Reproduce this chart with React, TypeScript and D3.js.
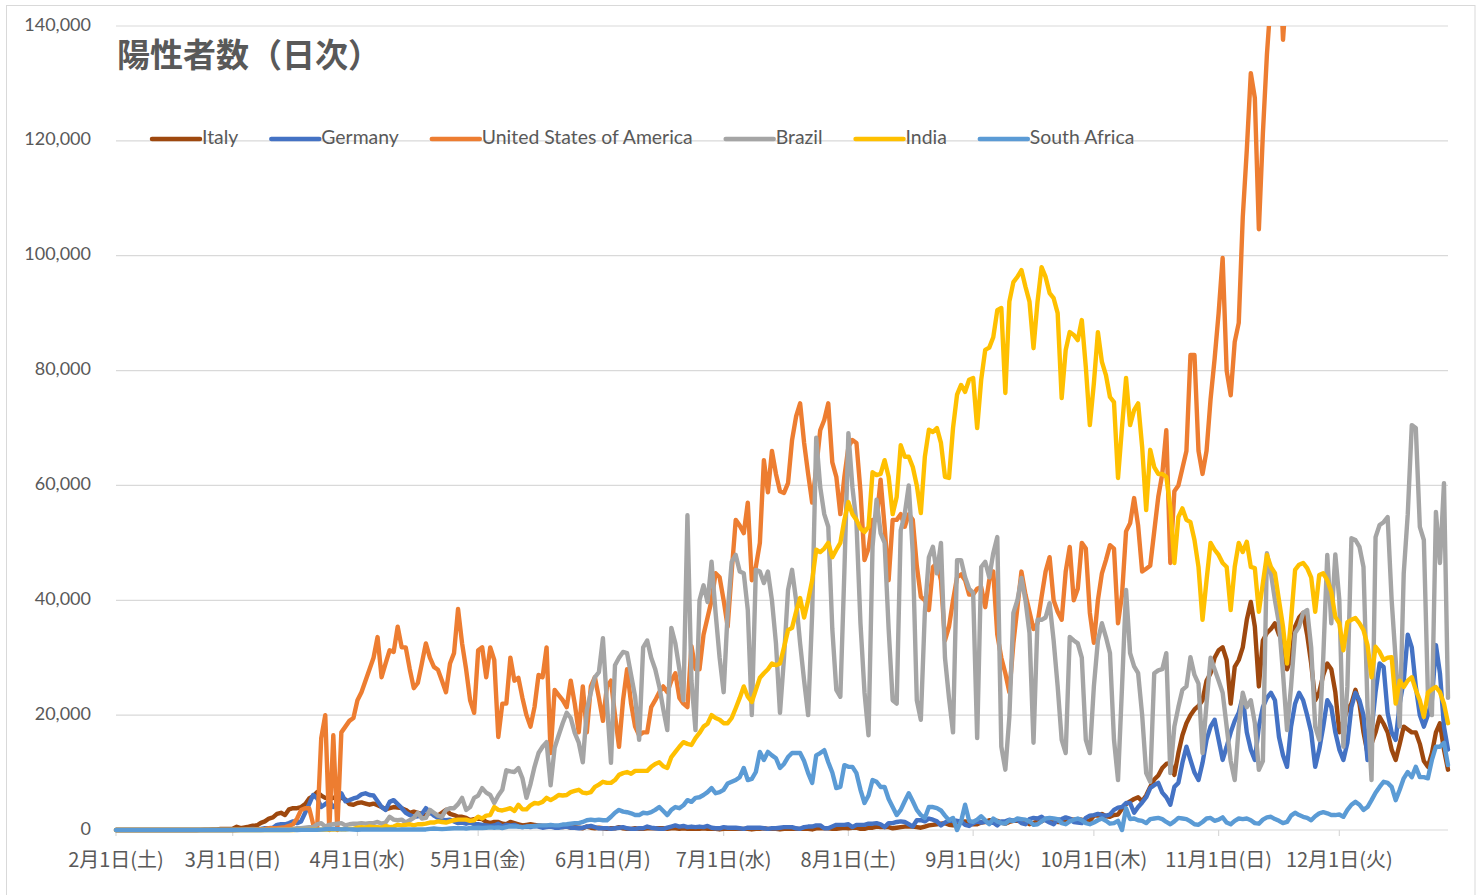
import React, { useEffect, useRef } from 'react';
import * as d3 from 'd3';

// daily new cases (thousands), 2020-02-01 .. 2020-12-28, one line per month
const startDate = Date.UTC(2020, 1, 1);
const countries = ['Italy', 'Germany', 'United States of America', 'Brazil', 'India', 'South Africa'];
const colors = ['#9E480E', '#4472C4', '#ED7D31', '#A5A5A5', '#FFC000', '#5B9BD5'];
const yTicks = [0, 20000, 40000, 60000, 80000, 100000, 120000, 140000];
const weekdays = ['日', '月', '火', '水', '木', '金', '土'];

const italy = [
  0,0,0,0,0,0,0,0,0,0,0,0,0,0,0,0,0,0,0,0,0,0.02,0.06,0.07,0.1,0.1,0.2,0.2,0.2,
  0.24,0.57,0.34,0.47,0.58,0.77,0.78,1.25,1.5,2.0,2.2,2.8,3.0,2.6,3.6,3.8,3.8,4.0,4.5,5.5,5.9,6.6,6.0,5.6,5.4,5.6,5.8,5.6,5.3,4.5,4.4,
  4.7,4.8,4.6,4.4,4.6,4.3,4.0,3.6,3.8,4.0,3.9,3.8,3.5,3.0,3.2,3.0,2.8,2.6,3.0,2.8,2.5,3.0,3.5,2.8,2.6,2.3,2.3,2.1,1.7,1.9,
  2.0,1.9,1.4,1.2,1.4,1.4,1.1,1.0,1.4,1.2,1.0,0.8,0.9,1.0,0.9,0.8,0.7,0.7,0.6,0.6,0.6,0.5,0.6,0.4,0.5,0.4,0.3,0.6,0.4,0.3,0.4,
  0.3,0.2,0.3,0.3,0.5,0.3,0.2,0.2,0.3,0.2,0.2,0.3,0.3,0.3,0.3,0.3,0.2,0.3,0.3,0.2,0.3,0.2,0.2,0.2,0.2,0.3,0.2,0.2,0.2,0.1,
  0.2,0.2,0.2,0.2,0.2,0.2,0.2,0.1,0.2,0.2,0.3,0.2,0.2,0.2,0.1,0.2,0.2,0.2,0.2,0.2,0.2,0.2,0.1,0.3,0.3,0.3,0.3,0.2,0.2,0.3,0.4,
  0.3,0.4,0.4,0.2,0.2,0.4,0.4,0.6,0.5,0.5,0.5,0.3,0.4,0.5,0.6,0.6,0.6,0.5,0.4,0.6,0.8,0.9,1.0,1.1,1.2,0.9,0.8,1.4,1.4,1.5,1.4,
  1.0,1.0,1.3,1.4,1.7,1.7,1.6,1.3,1.1,1.4,1.6,1.6,1.5,1.5,1.0,1.2,1.5,1.5,1.9,1.6,1.6,1.4,1.4,1.4,1.9,1.8,1.9,1.8,1.5,1.6,
  2.5,2.5,2.8,2.4,2.3,2.6,2.7,3.7,4.5,5.0,5.4,5.7,5.0,6.0,7.5,8.8,9.5,10.8,11.5,11.7,9.6,13.4,16.5,18.6,20,21,21.6,22.6,26,27.3,30,
  31.3,31.8,29.6,22,28.4,29.6,31.8,36.6,39.7,35.4,25,33,34.3,35,36,34,33,28,30,35.4,37,37.8,34,29,22.6,24,27,29,28,24,
  17,19,21,22,24.4,22,17,13.4,15,17,19.7,18.5,17,14,12.2,15,18,17.5,17,17,15,12,11,13.4,17,18.6,14,10.5,
];

const germany = [
  0,0,0,0,0,0,0,0,0,0,0,0,0,0,0,0,0,0,0,0,0,0,0,0,0,0,0,0,0,
  0.01,0.02,0.03,0.1,0.15,0.2,0.1,0.2,0.3,0.3,0.4,0.9,1.0,1.0,1.2,1.5,1.2,1.5,3.0,4.5,6.1,5.5,4.0,4.5,5.0,4.0,4.5,6.4,5.0,5.2,5.5,
  5.7,6.2,6.4,6.1,6.0,5.0,4.0,3.5,4.9,5.2,4.5,3.8,3.0,2.6,2.3,2.4,2.8,3.8,3.1,2.5,2.1,1.8,1.7,1.8,1.5,1.2,1.3,1.1,1.3,1.0,
  1.0,0.9,0.8,0.7,0.8,1.1,0.6,0.9,0.8,0.9,0.6,0.5,0.6,0.5,0.7,0.6,0.4,0.5,0.6,0.4,0.4,0.5,0.6,0.4,0.4,0.3,0.4,0.6,0.7,0.5,0.3,
  0.3,0.3,0.2,0.3,0.4,0.5,0.3,0.2,0.2,0.3,0.3,0.6,0.4,0.3,0.2,0.2,0.4,0.6,0.8,0.6,0.7,0.5,0.6,0.5,0.6,0.5,0.7,0.4,0.3,0.3,
  0.5,0.4,0.4,0.4,0.3,0.2,0.4,0.4,0.4,0.4,0.3,0.2,0.3,0.3,0.4,0.5,0.5,0.5,0.3,0.2,0.5,0.6,0.6,0.8,0.8,0.3,0.3,0.6,0.9,0.9,0.9,
  1.0,0.5,0.9,0.9,0.9,1.1,1.1,1.2,1.0,0.5,1.2,1.2,1.4,1.5,1.4,1.0,0.6,1.7,1.7,1.5,2.0,1.8,1.5,0.8,1.3,1.6,1.6,1.6,1.5,0.9,0.7,
  1.2,1.5,1.3,1.5,1.2,1.3,0.8,1.5,1.5,1.8,1.6,1.8,1.2,1.0,1.9,2.1,2.0,2.3,1.7,1.3,1.0,1.8,1.9,2.2,2.0,1.4,1.3,1.2,2.1,2.5,
  2.6,2.8,2.6,2.5,2.7,3.5,3.9,4.0,4.7,4.7,3.0,4.0,4.8,5.7,7.3,7.8,8.2,6.5,5.7,4.4,7.5,8.2,11.7,14.5,12.2,10,8.7,11.7,15.7,18,19.2,
  15.7,12.2,14.5,17,19,20.4,23.2,17,14,12.2,18,21.4,23,23.9,22.6,16.2,13,11,18,22,23.9,22.6,20,17,11,14,18,22.6,21.4,17,
  14,12.2,15.2,21.4,23.9,22.6,20,12.2,17.4,24,29,28.4,20.4,17,15.7,22,26,34,31.8,25,20,18,20,22.6,32.2,27.3,18,14,
];

const usa = [
  0,0,0,0,0,0,0,0,0,0,0,0,0,0,0,0,0,0,0,0,0,0,0,0,0,0,0,0,0,
  0.01,0.01,0.02,0.03,0.05,0.07,0.1,0.12,0.2,0.3,0.3,0.3,0.4,0.5,0.7,1.0,2.0,3.5,3.8,3.8,1.0,0.5,16,20,0,16.5,0,17,18,19,19.5,
  22.6,24,26,28,30,33.6,26.6,29,31.3,31,35.4,31.8,31.8,28,24.7,25.6,29,32.5,30,28.4,27.9,26,24,29,30.8,38.5,32.5,28,22.6,20.4,
  31.3,31.8,26.6,31.8,29.6,16.2,22,22,30,26,26.5,23,20,18,21.4,27,26.6,31.8,13.4,24.4,23.5,22.6,21.4,26,22,17,25,17,25,26.6,23,
  19,25,26,20,14.5,22.6,28,22,18,16.5,17,17,21.4,22.6,24,25,24,26,27.3,23,22,21.4,32,28,28,34,37,40,44.7,44,
  40,35.4,45,54,53,51.7,57,43.5,45.8,50,64.4,58.8,66,62,59,58.7,60.4,67.9,72,74.3,67.4,62,57,63,69.6,71.4,74.3,64,61.5,55,61.5,
  66.7,67.9,67.4,59,47,49,54,54,61,52.8,43.5,54,54,55,52.8,55,54,46,40.6,40,38.3,45.8,46.5,43.5,33,35.4,40,44,44.5,43.5,41,
  41,42,42.3,38.8,43.5,45,34,30,27.3,24,32.5,38.8,45,41,38,35,36,40.6,45,47.5,40,38,36.6,45,49.3,40,42,50,49,37.8,
  32.6,40,44.7,47,49.6,49,36,41,52,53.4,57.8,53,45,45.5,46,52,58,62,69.6,46.5,59,60,63,66,82.7,82.7,66,62,66,75,82,
  90,99.6,80,75.7,85,88.3,106.7,118.4,131.8,127.5,104.6,121.3,135,145,150,155,137.6,148,160,165,170,175,160,145,175,180,185,195,155,150,
  160,180,200,210,220,215,185,190,210,225,230,235,210,195,200,220,240,245,250,220,195,200,210,230,215,180,150,160,
];

const brazil = [
  0,0,0,0,0,0,0,0,0,0,0,0,0,0,0,0,0,0,0,0,0,0,0,0,0,0,0,0,0,
  0,0,0,0,0,0,0.01,0.01,0.02,0.03,0.03,0.05,0.1,0.1,0.1,0.2,0.3,0.3,0.4,0.5,0.5,1.0,1.2,0.6,0.9,1.0,1.1,1.2,0.8,1.0,1.1,
  1.1,1.2,1.1,1.2,1.2,1.4,1.1,1.3,2.3,1.8,1.7,1.8,1.3,1.7,2.1,3.0,2.0,2.1,3.5,3.0,2.5,2.3,3.5,3.8,3.8,4.5,5.6,3.5,4.0,5.6,
  6.0,7.3,6.5,6.1,4.7,6.0,7.0,10.4,10.2,10.1,10.8,9.0,5.6,8.0,11.0,13.4,14.5,15.3,7.8,14.3,16.5,18.6,20.4,19.5,16.9,15.2,11.8,20.9,24,26.6,27.5,
  33.4,22,11.7,28.7,30,31,30.8,27,23.2,15.7,31.8,33,30,28,25,21,17.4,35.2,32.5,28,22.6,54.8,26,17.4,40,42.6,39.7,46.7,37.8,30,
  24,38,46.7,47.9,45,44.7,38.3,20,45.3,45,43,45,40,32.5,20.4,30,41.8,45.3,40,32.5,26,20,37.8,68.3,59.7,55,52.8,35,24.4,23.2,45,
  69.1,59.7,53.5,36,24,16.5,49.3,57.5,51.7,50,35,22.6,22,52.2,55,60,48.2,22.6,19.2,38,47.5,49.3,44.7,50,30,23,17,47,47,44,42,
  41.3,16,45.8,46.7,44,48.2,51,14.5,10.5,19.7,37.8,40,43.9,40,34.3,15.2,36.6,36.6,37,39.5,33,25,15.7,13.4,33.6,33,32.5,30,15.7,13.4,
  25,33,36,33.6,30.8,15.7,8.7,25,41.8,30.8,28.5,27.3,20,9.9,8.4,27.3,27.8,28,30.8,9.9,18,21.4,24.4,25,30.1,27,25.5,13.4,22,30,28,
  26,23.9,18,12,8.7,18,23.9,21.4,22.6,18.6,10.5,12,48.2,44.7,40,36,27.3,17.4,25,34.3,35.4,37.8,38.3,31.8,18,15.7,30,47.9,36,48,
  40,14.5,25,50.8,50.5,49.3,45.8,21.4,8.7,51,53.1,53.6,54.5,40,29.6,18,44.7,55,70.5,70,52.8,50.5,23.9,20,55.4,46.5,60.4,23,
];

const india = [
  0,0,0,0,0,0,0,0,0,0,0,0,0,0,0,0,0,0,0,0,0,0,0,0,0,0,0,0,0,
  0,0,0,0,0.002,0.01,0.003,0.001,0.001,0.01,0.01,0.01,0.01,0.01,0.02,0.01,0.02,0.02,0.03,0.03,0.05,0.07,0.06,0.1,0.09,0.07,0.1,0.15,0.1,0.2,0.2,
  0.4,0.5,0.4,0.6,0.5,0.5,0.4,0.7,0.5,0.6,0.9,0.8,0.9,1.0,0.8,1.0,1.0,1.1,1.3,1.3,1.5,1.4,1.3,1.5,1.7,1.8,1.8,1.8,1.6,1.7,
  2.3,2.0,2.5,2.6,4.0,3.5,3.4,3.6,3.8,3.3,4.4,3.6,3.6,4.3,4.7,4.6,4.9,5.6,5.2,5.6,6.1,6.0,6.1,6.6,6.8,7.0,6.5,6.4,6.6,7.5,7.9,
  8.4,8.2,8.2,8.7,9.6,9.9,10.1,9.8,10.3,10.3,10.3,10.3,11.0,11.5,11.8,11.1,10.8,12.7,13.6,14.5,15.3,15.0,14.8,16.0,16.9,18,18.5,20,19.5,19.2,
  18.6,18.6,19.5,21.2,23,25,23.2,22.3,24.4,26.5,27.3,28,29,28.7,29,31.8,34.8,35.2,38,40.4,37,40,43.5,48.8,48.4,49,50,47.5,48.8,50,54,
  57.1,55,54,52.5,51.9,52.8,62.3,61.8,62,64.4,61.5,55,58,67,65,65,63.2,60,55.2,65,69.7,69.3,70,67.4,61.5,61.3,70,75.8,77.5,76.3,78.4,
  78.7,70,78.4,83.6,84,85.8,90.5,90.9,76.1,92,95.4,96.3,97.5,94.6,92,83.9,92,98,96.3,93.5,92.6,90,75.2,83.6,86.7,86.2,85.3,88.8,80.6,70.5,
  77.8,86.7,81.5,79.2,75.4,74.5,61.3,70.2,78.7,70.5,73.1,74.3,66.7,55.7,66.2,63.2,62,62,61.5,56.2,46.5,54.5,56,54,53.6,50.5,45.8,36.6,43.5,50,48.8,
  47.9,46.5,45.8,38.3,45.8,50,48.4,50.2,45.8,45.6,38,43,47.9,45.8,44.7,40,35.4,29,36.6,45.3,46.2,46.5,45.6,44,38,44.4,44.7,43.5,41.5,37.1,
  36,31.3,36.2,36.6,36.9,36,34.8,32.2,26.6,31.9,31,29.6,30,30.1,22,26,24.9,26,26.6,24.4,22.6,19.7,23.9,24.5,24.9,24,22,18.6,
];

const southAfrica = [
  0,0,0,0,0,0,0,0,0,0,0,0,0,0,0,0,0,0,0,0,0,0,0,0,0,0,0,0,0,
  0,0,0,0,0,0,0,0.001,0.001,0.001,0.002,0.003,0.004,0.004,0.007,0.013,0.013,0.02,0.02,0.03,0.03,0.04,0.07,0.12,0.15,0.2,0.18,0.1,0.13,0.1,0.08,
  0.05,0.08,0.1,0.1,0.09,0.08,0.06,0.1,0.08,0.1,0.06,0.1,0.08,0.1,0.1,0.1,0.1,0.1,0.2,0.25,0.2,0.16,0.2,0.25,0.3,0.3,0.32,0.25,0.35,0.35,
  0.4,0.35,0.4,0.45,0.4,0.45,0.35,0.5,0.65,0.6,0.6,0.5,0.6,0.65,0.65,0.8,0.8,0.8,0.9,0.8,0.8,0.95,1.0,1.1,1.2,1.2,1.4,1.7,1.8,1.7,1.8,
  1.7,1.7,2.3,3.0,3.5,3.2,3.1,2.9,2.6,2.6,3.0,2.9,3.1,3.5,4.0,3.3,2.6,3.5,4.0,3.8,4.3,5.2,4.9,5.6,5.7,6.1,6.6,7.3,6.4,6.6,
  7.0,8.1,8.4,8.7,9.2,10.8,8.7,8.9,10.1,13.6,12.2,13.6,13,12.5,10.8,11.5,12.7,13.4,13.4,13.4,12,9.9,8.2,13,13.4,13.9,11.8,10,7.3,7.5,11.3,
  11,11,9.9,7,4.7,6,8.7,8.4,7.5,7.5,5.4,4,2.6,3.5,5,6.4,5,3.5,2.6,2.1,4,4,3.8,3.4,2.5,1.7,2.1,0,1.5,4.4,1.6,
  1.4,1.8,2.4,1.7,1.0,2.0,1.5,1.2,1.1,1.7,1.6,2.0,1.9,1.8,1.5,0.9,1.0,1.5,2.0,2.1,2.0,1.9,1.2,1.0,1.5,1.8,2.0,1.7,1.2,1.0,
  1.3,1.7,2.0,1.6,1.1,1.2,1.6,0,3.8,1.9,2.0,1.7,1.6,1.2,1.9,2.0,2.1,1.9,1.4,1.0,1.5,2.1,2.0,1.9,1.5,1.0,0.9,1.4,2.0,2.1,1.6,
  1.8,2.2,1.3,1.0,1.6,2.0,1.9,2.0,1.7,1.2,1.1,1.8,2.2,2.3,1.9,1.6,1.2,1.4,2.5,3.0,2.6,2.3,2.1,1.7,2.4,2.9,3.1,2.9,2.6,2.6,
  2.7,2.3,3.5,4.4,4.9,4.4,3.5,4.0,5.2,6.5,7.5,8.4,8.2,7.5,5.2,7,9,10.1,9.2,11,9.2,9.2,9,12.2,14.5,14.5,15.2,11.3,
];

const series = [italy, germany, usa, brazil, india, southAfrica];

const App = () => {
  const svgRef = useRef(null);

  useEffect(() => {
    const width = 1483;
    const height = 895;
    const left = 116, right = 1448, top = 26, bottom = 830;
    const textColor = '#595959';
    const gridColor = '#d9d9d9';

    const svg = d3.select(svgRef.current).attr('width', width).attr('height', height);
    svg.selectAll('*').remove();

    const days = d3.max(series, s => s.length);
    const dates = d3.range(days).map(i => new Date(startDate + i * 864e5));

    const x = d3.scaleUtc().domain([dates[0], dates[days - 1]]).range([left, right]);
    const y = d3.scaleLinear().domain([0, 140000]).range([bottom, top]);

    // chart border
    svg.append('rect')
      .attr('x', 6.5).attr('y', 5.5)
      .attr('width', 1468.5).attr('height', 900)
      .attr('fill', 'white').attr('stroke', gridColor);

    // gridlines
    svg.append('g').selectAll('line')
      .data(yTicks).enter().append('line')
      .attr('x1', left).attr('x2', right)
      .attr('y1', d => y(d)).attr('y2', d => y(d))
      .attr('stroke', gridColor).attr('stroke-width', 1.2);

    // y labels
    svg.append('g').selectAll('text')
      .data(yTicks).enter().append('text')
      .attr('x', 91).attr('y', d => y(d))
      .attr('text-anchor', 'end').attr('dominant-baseline', 'middle')
      .attr('font-family', 'Lato, "Open Sans", sans-serif').attr('font-size', 18)
      .attr('fill', textColor)
      .text(d => d3.format(',')(d));

    // month ticks + labels
    const months = d3.utcMonth.range(dates[0], new Date(+dates[days - 1] + 1));
    const xAxis = svg.append('g');
    xAxis.selectAll('line')
      .data(months).enter().append('line')
      .attr('x1', d => x(d)).attr('x2', d => x(d))
      .attr('y1', bottom).attr('y2', bottom + 6)
      .attr('stroke', gridColor).attr('stroke-width', 1.2);
    xAxis.selectAll('text')
      .data(months).enter().append('text')
      .attr('x', d => x(d)).attr('y', 862)
      .attr('text-anchor', 'middle').attr('dominant-baseline', 'middle')
      .attr('font-family', '"Noto Sans CJK JP", sans-serif').attr('font-size', 20)
      .attr('fill', textColor)
      .text(d => `${d.getUTCMonth() + 1}月${d.getUTCDate()}日(${weekdays[d.getUTCDay()]})`);

    // lines, clipped to the plot area like Excel
    svg.append('clipPath').attr('id', 'plot-clip')
      .append('rect')
      .attr('x', left - 10).attr('y', top)
      .attr('width', right - left + 20).attr('height', bottom - top + 12);

    const line = d3.line()
      .x((d, i) => x(dates[i]))
      .y(d => y(d * 1000));

    svg.append('g').attr('clip-path', 'url(#plot-clip)')
      .selectAll('path')
      .data(series).enter().append('path')
      .attr('d', d => line(d))
      .attr('fill', 'none')
      .attr('stroke', (d, i) => colors[i])
      .attr('stroke-width', 4.4)
      .attr('stroke-linejoin', 'round')
      .attr('stroke-linecap', 'round');

    // title
    svg.append('text')
      .attr('x', 117).attr('y', 67)
      .attr('font-family', '"Noto Sans CJK JP", sans-serif')
      .attr('font-size', 33).attr('font-weight', 'bold')
      .attr('fill', textColor)
      .text('陽性者数（日次）');

    // legend
    const legend = svg.append('g');
    let lx = 152;
    countries.forEach((name, i) => {
      legend.append('line')
        .attr('x1', lx).attr('x2', lx + 48)
        .attr('y1', 139).attr('y2', 139)
        .attr('stroke', colors[i]).attr('stroke-width', 4.5)
        .attr('stroke-linecap', 'round');
      const t = legend.append('text')
        .attr('x', lx + 50).attr('y', 139)
        .attr('dominant-baseline', 'middle')
        .attr('font-family', 'Lato, "Open Sans", sans-serif').attr('font-size', 19.4)
        .attr('fill', textColor)
        .text(name);
      const w = t.node().getComputedTextLength();
      lx += 50 + w + 33;
    });
  }, []);

  return (
    <div style={{ position: 'absolute', left: 0, top: 0 }}>
      <svg ref={svgRef} style={{ display: 'block' }}></svg>
    </div>
  );
};

export default App;
